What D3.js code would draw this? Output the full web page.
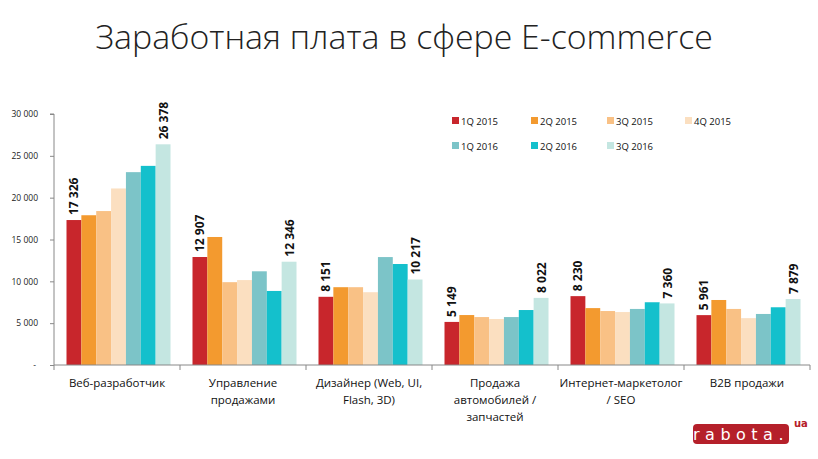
<!DOCTYPE html>
<html><head><meta charset="utf-8">
<script src="https://cdn.jsdelivr.net/npm/d3@7"></script>
<style>body{margin:0;background:#fff}svg{display:block}</style>
</head><body>
<svg id="c" width="818" height="459"></svg>
<script>
const categories = ["Веб-разработчик", "Управление продажами", "Дизайнер (Web, UI, Flash, 3D)", "Продажа автомобилей / запчастей", "Интернет-маркетолог / SEO", "B2B продажи"];
const categoryLines = [["Веб-разработчик"], ["Управление", "продажами"], ["Дизайнер (Web, UI,", "Flash, 3D)"], ["Продажа", "автомобилей /", "запчастей"], ["Интернет-маркетолог", "/ SEO"], ["B2B продажи"]];
const seriesNames = ["1Q 2015", "2Q 2015", "3Q 2015", "4Q 2015", "1Q 2016", "2Q 2016", "3Q 2016"];
const q1_2015 = [17326, 12907, 8151, 5149, 8230, 5961];
const q2_2015 = [17900, 15300, 9300, 5970, 6800, 7770];
const q3_2015 = [18400, 9900, 9300, 5730, 6450, 6700];
const q4_2015 = [21100, 10150, 8700, 5500, 6330, 5600];
const q1_2016 = [23050, 11200, 12900, 5730, 6700, 6100];
const q2_2016 = [23800, 8850, 12070, 6570, 7500, 6900];
const q3_2016 = [26378, 12346, 10217, 8022, 7360, 7879];
const yTicks = [0, 5000, 10000, 15000, 20000, 25000, 30000];
const colors = ["#c8262c", "#f39a2f", "#f9c185", "#fbdfc0", "#7cc4c8", "#14c0cc", "#c4e6e1"];
const labeledSeries = [0, 6];

const series = [q1_2015, q2_2015, q3_2015, q4_2015, q1_2016, q2_2016, q3_2016];
const svg = d3.select("#c");
const fmt = v => v === 0 ? "-" : d3.format(",")(v).replace(/,/g, " ");

const x0 = d3.scaleBand().domain(categories).range([54, 810]).paddingInner(0).paddingOuter(0);
const x1 = d3.scaleBand().domain(d3.range(series.length)).range([12.5, x0.bandwidth() - 9.5]).padding(0);
const y = d3.scaleLinear().domain([0, 30000]).range([365, 114]);

// Title
const title = svg.append("text").attr("x", 404).attr("y", 49).attr("text-anchor", "middle")
  .attr("font-family", "'Open Sans', sans-serif").attr("font-weight", 300).attr("font-size", 38)
  .attr("fill", "#222").text("Заработная плата в сфере E-commerce");
const tw = title.node().getComputedTextLength();
title.attr("font-size", 38 * 618 / tw);

// Bars
const g = svg.append("g");
categories.forEach((c, ci) => {
  series.forEach((s, si) => {
    g.append("rect").attr("x", x0(c) + x1(si)).attr("y", y(s[ci]))
      .attr("width", x1.bandwidth()).attr("height", y(0) - y(s[ci])).attr("fill", colors[si]);
  });
  labeledSeries.forEach(si => {
    const cx = x0(c) + x1(si) + x1.bandwidth() / 2;
    const ty = y(series[si][ci]) - 5;
    g.append("text").attr("transform", `translate(${cx + 4.5},${ty}) rotate(-90)`)
      .attr("font-family", "'Open Sans', sans-serif").attr("font-weight", 700).attr("font-size", 12)
      .attr("fill", "#111").text(fmt(series[si][ci]));
  });
});

// Y axis
const yAxis = d3.axisLeft(y).tickValues(yTicks).tickSize(4).tickFormat(fmt);
const ya = svg.append("g").attr("transform", "translate(54,0)").call(yAxis);
ya.select(".domain").attr("stroke", "#888").attr("d", "M-4,114H0V365");
ya.selectAll(".tick line").attr("stroke", "#888");
ya.selectAll(".tick text").attr("x", -16).attr("font-family", "'Open Sans', sans-serif").attr("font-size", 8.5).attr("fill", "#222");
ya.selectAll(".tick").filter(d => d === 0).select("text").attr("x", -18);

// X axis
const xa = svg.append("g");
xa.append("line").attr("x1", 54).attr("x2", 810).attr("y1", 365).attr("y2", 365).attr("stroke", "#888");
d3.range(categories.length + 1).forEach(i => {
  const xx = 54 + i * x0.bandwidth();
  xa.append("line").attr("x1", xx).attr("x2", xx).attr("y1", 365).attr("y2", 370).attr("stroke", "#888");
});
categories.forEach((c, ci) => {
  const t = xa.append("text").attr("text-anchor", "middle")
    .attr("font-family", "'Open Sans', sans-serif").attr("font-size", 11.5).attr("fill", "#111");
  categoryLines[ci].forEach((ln, li) => {
    t.append("tspan").attr("x", x0(c) + x0.bandwidth() / 2).attr("y", 387 + li * 17).text(ln);
  });
});

// Legend
const legX = [452, 531, 607, 685];
const legY = [121, 146];
seriesNames.forEach((n, i) => {
  const lx = legX[i % 4], ly = legY[Math.floor(i / 4)];
  svg.append("rect").attr("x", lx).attr("y", ly - 4).attr("width", 7).attr("height", 7).attr("fill", colors[i]);
  svg.append("text").attr("x", lx + 9).attr("y", ly + 3.5)
    .attr("font-family", "'Open Sans', sans-serif").attr("font-size", 9.5).attr("fill", "#111").text(n);
});

// Logo
const logo = svg.append("g");
logo.append("rect").attr("x", 693).attr("y", 424).attr("width", 96).attr("height", 20).attr("rx", 4).attr("fill", "#b5202a");
logo.append("text").attr("x", 741).attr("y", 440).attr("text-anchor", "middle")
  .attr("font-family", "'DejaVu Sans', sans-serif").attr("font-size", 16).attr("letter-spacing", 5.5)
  .attr("fill", "#fff").text("rabota.");
logo.append("text").attr("x", 794).attr("y", 427)
  .attr("font-family", "'DejaVu Sans', sans-serif").attr("font-weight", 700).attr("font-size", 10)
  .attr("fill", "#b5202a").text("ua");
</script>
</body></html>
